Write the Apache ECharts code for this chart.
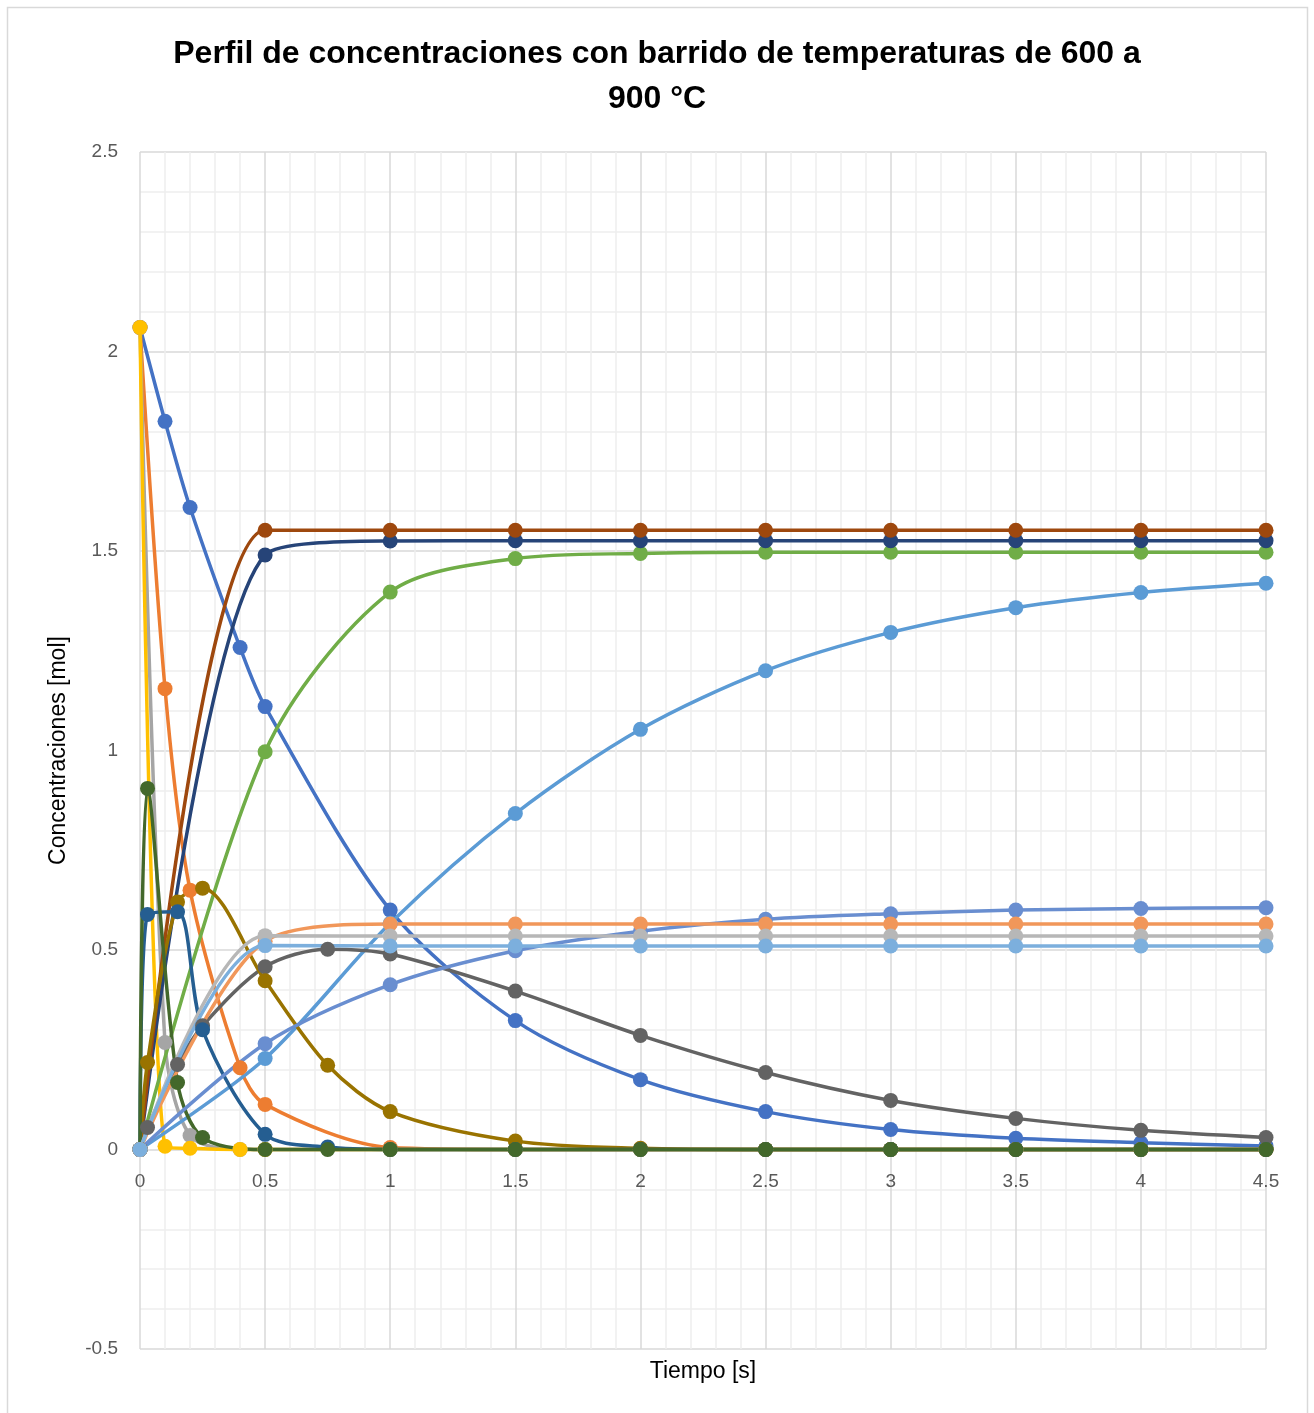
<!DOCTYPE html>
<html>
<head>
<meta charset="utf-8">
<title>Perfil de concentraciones</title>
<script src="https://cdn.jsdelivr.net/npm/echarts@6/dist/echarts.min.js"></script>
<style>
  html, body { margin: 0; padding: 0; background: #fff; }
  #chart { width: 1314px; height: 1413px; }
</style>
</head>
<body>
<div id="chart"></div>
<script>
// tiempos de cada grupo de series
const tiempoA = [0, 0.1, 0.2, 0.4, 0.5, 1, 1.5, 2, 2.5, 3, 3.5, 4, 4.5]
const tiempoB = [0, 0.5, 1, 1.5, 2, 2.5, 3, 3.5, 4, 4.5]
const tiempoC = [0, 0.03, 0.15, 0.25, 0.5, 0.75, 1, 1.5, 2, 2.5, 3, 3.5, 4, 4.5]

// concentraciones [mol]
const serie1 = [2.06, 1.825, 1.609, 1.258, 1.11, 0.6, 0.323, 0.175, 0.095, 0.05, 0.028, 0.017, 0.009]
const serie2 = [2.06, 1.155, 0.65, 0.205, 0.113, 0.005, 0, 0, 0, 0, 0, 0, 0]
const serie3 = [2.06, 0.268, 0.035, 0, 0, 0, 0, 0, 0, 0, 0, 0, 0]
const serie4 = [2.06, 0.008, 0.003, 0, 0, 0, 0, 0, 0, 0, 0, 0, 0]
const serie5 = [0, 0.228, 0.567, 0.842, 1.053, 1.2, 1.296, 1.358, 1.396, 1.419]
const serie6 = [0, 0.997, 1.397, 1.481, 1.494, 1.497, 1.497, 1.497, 1.497, 1.497]
const serie7 = [0, 1.49, 1.525, 1.526, 1.526, 1.526, 1.526, 1.526, 1.526, 1.526]
const serie8 = [0, 1.552, 1.552, 1.552, 1.552, 1.552, 1.552, 1.552, 1.552, 1.552]
const serie9 = [0, 0.055, 0.213, 0.31, 0.458, 0.502, 0.49, 0.397, 0.286, 0.193, 0.123, 0.078, 0.048, 0.03]
const serie10 = [0, 0.218, 0.62, 0.655, 0.423, 0.211, 0.095, 0.021, 0.003, 0, 0, 0, 0, 0]
const serie11 = [0, 0.589, 0.596, 0.3, 0.038, 0.006, 0, 0, 0, 0, 0, 0, 0, 0]
const serie12 = [0, 0.905, 0.168, 0.03, 0, 0, 0, 0, 0, 0, 0, 0, 0, 0]
const serie13 = [0, 0.265, 0.413, 0.498, 0.547, 0.577, 0.591, 0.6, 0.604, 0.606]
const serie14 = [0, 0.522, 0.565, 0.565, 0.565, 0.565, 0.565, 0.565, 0.565, 0.565]
const serie15 = [0, 0.536, 0.535, 0.535, 0.535, 0.535, 0.535, 0.535, 0.535, 0.535]
const serie17 = [0, 0.511, 0.51, 0.51, 0.51, 0.51, 0.51, 0.51, 0.51, 0.51]

const yTicks = [-0.5, 0, 0.5, 1, 1.5, 2, 2.5]

// colores de Excel (orden de series)
const series = [
  { name: 'Serie1', t: tiempoA, v: serie1, color: '#4472C4' },
  { name: 'Serie2', t: tiempoA, v: serie2, color: '#ED7D31' },
  { name: 'Serie3', t: tiempoA, v: serie3, color: '#A5A5A5' },
  { name: 'Serie4', t: tiempoA, v: serie4, color: '#FFC000' },
  { name: 'Serie5', t: tiempoB, v: serie5, color: '#5B9BD5' },
  { name: 'Serie6', t: tiempoB, v: serie6, color: '#70AD47' },
  { name: 'Serie7', t: tiempoB, v: serie7, color: '#264478' },
  { name: 'Serie8', t: tiempoB, v: serie8, color: '#9E480E' },
  { name: 'Serie9', t: tiempoC, v: serie9, color: '#636363' },
  { name: 'Serie10', t: tiempoC, v: serie10, color: '#997300' },
  { name: 'Serie11', t: tiempoC, v: serie11, color: '#255E91' },
  { name: 'Serie12', t: tiempoC, v: serie12, color: '#43682B' },
  { name: 'Serie13', t: tiempoB, v: serie13, color: '#698ED0' },
  { name: 'Serie14', t: tiempoB, v: serie14, color: '#F1975A' },
  { name: 'Serie15', t: tiempoB, v: serie15, color: '#B7B7B7' },
  { name: 'Serie17', t: tiempoB, v: serie17, color: '#7CAFDD' }
]

const font = '"Liberation Sans", Arial, sans-serif'

const option = {
  animation: false,
  backgroundColor: '#fff',
  title: {
    text: 'Perfil de concentraciones con barrido de temperaturas de 600 a\n900 °C',
    left: 'center',
    top: 27,
    textStyle: {
      fontFamily: font,
      fontSize: 32,
      fontWeight: 'bold',
      color: '#000',
      lineHeight: 45
    }
  },
  grid: {
    left: 140,
    right: 48,
    top: 152,
    bottom: 64,
    containLabel: false,
    outerBoundsMode: 'none'
  },
  xAxis: {
    type: 'value',
    min: 0,
    max: 4.5,
    interval: 0.5,
    name: 'Tiempo [s]',
    nameLocation: 'middle',
    nameGap: 11,
    nameTextStyle: { fontFamily: font, fontSize: 23, color: '#000' },
    axisLine: { show: false },
    axisTick: { show: false },
    // etiquetas junto a la línea del cero, como en Excel
    axisLabel: { fontFamily: font, fontSize: 19, color: '#595959', margin: -177 },
    splitLine: { show: true, lineStyle: { color: '#D9D9D9', width: 1.5 } },
    minorTick: { show: false, splitNumber: 5 },
    minorSplitLine: { show: true, lineStyle: { color: '#EEEEEE', width: 1.5 } }
  },
  yAxis: {
    type: 'value',
    min: yTicks[0],
    max: yTicks[yTicks.length - 1],
    interval: 0.5,
    name: 'Concentraciones [mol]',
    nameLocation: 'middle',
    nameGap: 70,
    nameTextStyle: { fontFamily: font, fontSize: 23, color: '#000' },
    axisLine: { show: false, onZero: false },
    axisTick: { show: false },
    axisLabel: { fontFamily: font, fontSize: 19, color: '#595959', margin: 22 },
    splitLine: { show: true, lineStyle: { color: '#D9D9D9', width: 1.5 } },
    minorTick: { show: false, splitNumber: 5 },
    minorSplitLine: { show: true, lineStyle: { color: '#EEEEEE', width: 1.5 } }
  },
  graphic: [{
    type: 'rect',
    silent: true,
    shape: { x: 7.5, y: 7.5, width: 1300, height: 1440 },
    style: { fill: 'none', stroke: '#D9D9D9', lineWidth: 1.5 }
  }],
  series: series.map(function (s) {
    return {
      name: s.name,
      type: 'line',
      smooth: 0.3,
      symbol: 'circle',
      symbolSize: 15,
      color: s.color,
      lineStyle: { width: 3.5, color: s.color },
      itemStyle: { color: s.color },
      data: s.t.map(function (t, i) { return [t, s.v[i]] })
    }
  })
}

const myChart = echarts.init(document.getElementById('chart'))
myChart.setOption(option)
</script>
</body>
</html>
